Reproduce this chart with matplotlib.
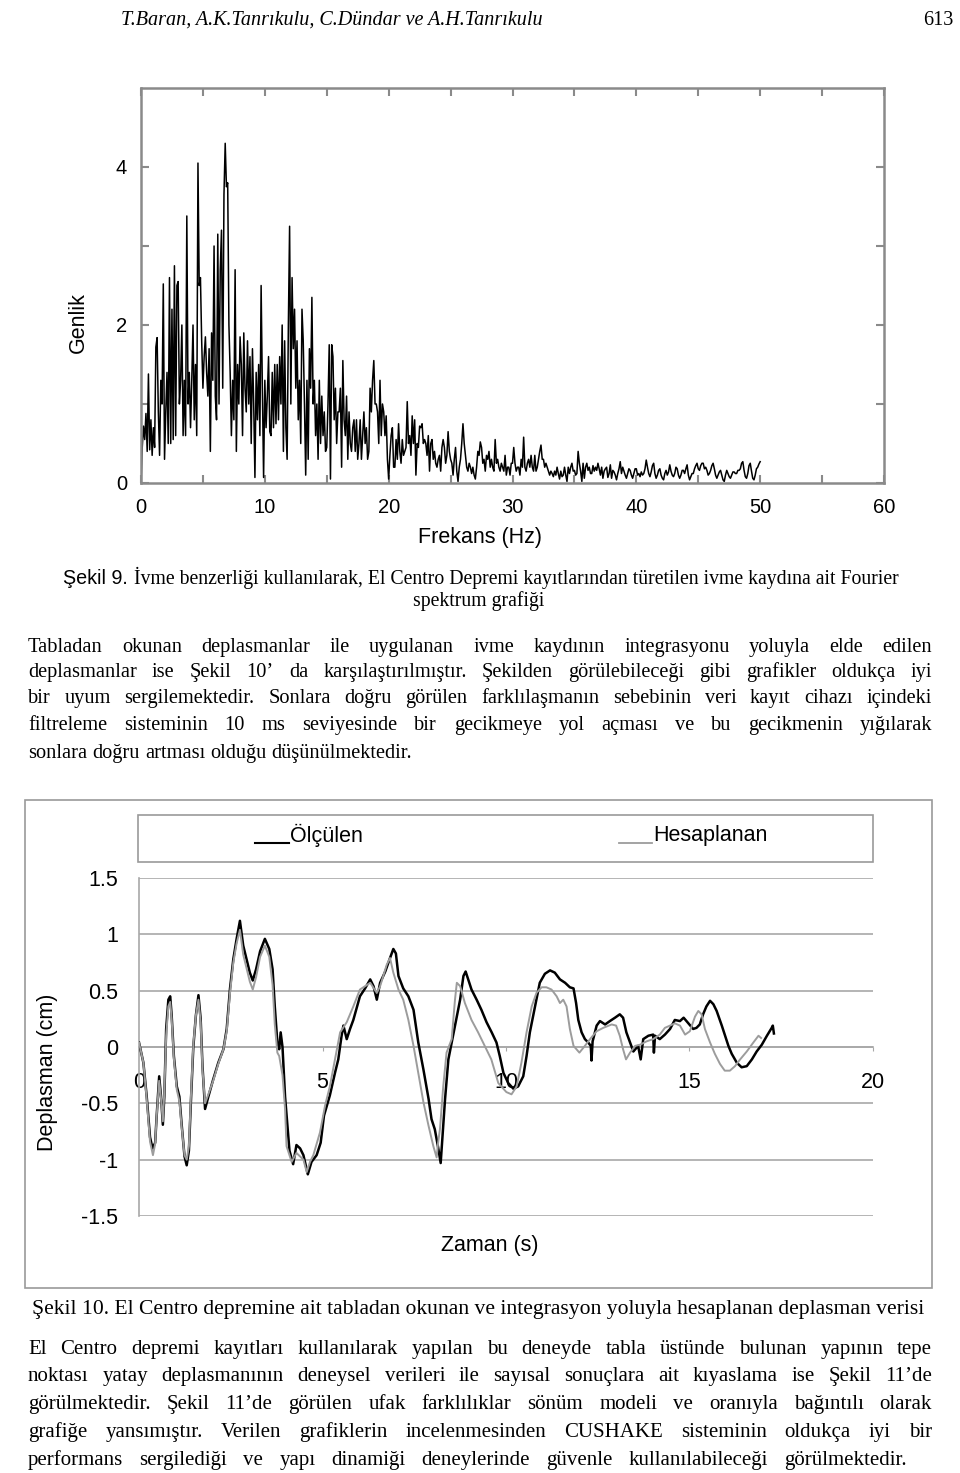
import numpy as np
import matplotlib
matplotlib.use('Agg')
import matplotlib.pyplot as plt
from matplotlib.patches import Rectangle
from matplotlib.lines import Line2D

# ---- Şekil 9: Fourier spectrum (genlik every 0.1 Hz, 0..50 Hz) ----
freq_step = 0.1
genlik = [
    0.00, 0.45, 0.72, 0.55, 0.88, 0.40, 1.38, 0.42, 0.80, 0.35,
    0.70, 0.45, 1.72, 1.84, 0.90, 0.35, 1.30, 1.00, 2.52, 0.30,
    0.90, 1.40, 0.50, 2.60, 0.50, 2.20, 0.55, 2.75, 0.60, 2.50,
    2.55, 1.00, 1.30, 2.00, 0.60, 1.30, 0.60, 3.38, 1.00, 1.40,
    0.70, 1.30, 2.00, 0.80, 1.50, 0.60, 4.05, 2.50, 2.60, 1.80,
    1.20, 1.60, 1.85, 1.40, 1.10, 1.70, 0.40, 1.90, 1.30, 3.00,
    1.10, 0.80, 3.15, 1.00, 2.70, 3.20, 1.20, 3.65, 4.30, 3.75,
    3.80, 2.00, 1.40, 0.60, 1.30, 0.80, 2.70, 0.40, 1.50, 1.00,
    1.85, 1.50, 0.60, 1.90, 1.20, 0.90, 1.80, 1.00, 1.60, 0.50,
    1.70, 1.00, 0.07, 1.40, 0.80, 1.50, 0.60, 2.50, 1.20, 0.07,
    1.30, 0.70, 1.10, 1.60, 0.65, 0.60, 1.40, 0.70, 1.50, 0.75,
    1.50, 0.80, 1.60, 1.00, 2.00, 0.40, 1.80, 0.70, 0.30, 2.00,
    3.25, 1.00, 2.60, 1.70, 2.20, 1.20, 1.80, 0.80, 1.30, 0.50,
    2.20, 1.80, 1.00, 0.10, 1.30, 0.30, 1.70, 1.20, 2.35, 1.00,
    1.30, 0.60, 1.00, 0.30, 1.30, 0.50, 1.10, 0.60, 0.90, 0.40,
    0.45, 1.00, 1.75, 0.05, 1.75, 1.60, 0.80, 1.20, 0.50, 0.90,
    0.90, 1.20, 0.20, 1.55, 0.80, 0.60, 1.10, 0.30, 0.90, 0.50,
    0.40, 0.70, 0.80, 0.40, 0.80, 0.30, 0.50, 0.80, 0.30, 0.60,
    0.90, 0.50, 0.70, 0.30, 0.40, 1.20, 0.90, 1.30, 1.55, 1.00,
    1.00, 0.90, 0.50, 1.30, 0.60, 1.00, 0.90, 0.60, 0.85, 0.30,
    0.05, 0.35, 0.60, 0.70, 0.20, 0.20, 0.55, 0.30, 0.75, 0.40,
    0.25, 0.55, 0.35, 0.40, 0.45, 1.03, 0.50, 0.60, 0.35, 0.85,
    0.50, 0.80, 0.10, 0.50, 0.45, 0.72, 0.70, 0.75, 0.50, 0.55,
    0.50, 0.35, 0.60, 0.15, 0.50, 0.55, 0.30, 0.40, 0.25, 0.20,
    0.30, 0.35, 0.15, 0.45, 0.55, 0.45, 0.25, 0.35, 0.65, 0.40,
    0.30, 0.25, 0.10, 0.30, 0.45, 0.15, 0.02, 0.20, 0.30, 0.50,
    0.75, 0.50, 0.35, 0.20, 0.15, 0.25, 0.20, 0.12, 0.20, 0.10,
    0.05, 0.20, 0.40, 0.35, 0.52, 0.45, 0.25, 0.30, 0.15, 0.35,
    0.30, 0.40, 0.20, 0.30, 0.20, 0.15, 0.55, 0.25, 0.30, 0.20,
    0.15, 0.25, 0.20, 0.15, 0.35, 0.10, 0.20, 0.20, 0.10, 0.25,
    0.25, 0.45, 0.25, 0.15, 0.20, 0.20, 0.10, 0.30, 0.20, 0.58,
    0.20, 0.15, 0.25, 0.30, 0.20, 0.35, 0.20, 0.15, 0.35, 0.15,
    0.20, 0.30, 0.40, 0.48, 0.30, 0.30, 0.20, 0.25, 0.20, 0.15,
    0.10, 0.15, 0.12, 0.08, 0.15, 0.10, 0.20, 0.12, 0.05, 0.15,
    0.08, 0.10, 0.20, 0.10, 0.02, 0.20, 0.12, 0.20, 0.25, 0.15,
    0.16, 0.10, 0.12, 0.40, 0.25, 0.15, 0.02, 0.25, 0.06, 0.20,
    0.25, 0.16, 0.20, 0.12, 0.12, 0.22, 0.15, 0.20, 0.16, 0.25,
    0.18, 0.10, 0.20, 0.06, 0.15, 0.18, 0.20, 0.07, 0.12, 0.23,
    0.06, 0.16, 0.14, 0.10, 0.04, 0.12, 0.18, 0.27, 0.12, 0.20,
    0.15, 0.10, 0.06, 0.12, 0.18, 0.16, 0.10, 0.06, 0.12, 0.18,
    0.18, 0.10, 0.12, 0.08, 0.14, 0.10, 0.12, 0.18, 0.29, 0.20,
    0.12, 0.08, 0.14, 0.22, 0.25, 0.12, 0.06, 0.10, 0.16, 0.18,
    0.10, 0.06, 0.04, 0.12, 0.16, 0.10, 0.14, 0.23, 0.15, 0.10,
    0.08, 0.12, 0.20, 0.18, 0.10, 0.06, 0.10, 0.16, 0.16, 0.12,
    0.18, 0.23, 0.10, 0.04, 0.08, 0.12, 0.12, 0.18, 0.22, 0.25,
    0.18, 0.16, 0.22, 0.25, 0.25, 0.18, 0.20, 0.16, 0.10, 0.12,
    0.16, 0.22, 0.25, 0.18, 0.10, 0.06, 0.10, 0.14, 0.16, 0.10,
    0.04, 0.02, 0.10, 0.16, 0.12, 0.08, 0.06, 0.10, 0.14, 0.14,
    0.12, 0.12, 0.16, 0.16, 0.18, 0.25, 0.27, 0.16, 0.08, 0.06,
    0.12, 0.22, 0.25, 0.15, 0.06, 0.04, 0.10, 0.18, 0.20, 0.24,
    0.27,
]

# ---- Şekil 10: displacement time histories ----
olculen = [
    (0.00, 0.04), (0.12, -0.14), (0.21, -0.44), (0.30, -0.80), (0.37, -0.90),
    (0.44, -0.85), (0.48, -0.62), (0.55, -0.26), (0.60, -0.44), (0.65, -0.69),
    (0.69, -0.44), (0.74, 0.16), (0.80, 0.42), (0.85, 0.45), (0.89, 0.28),
    (0.95, -0.08), (1.03, -0.35), (1.10, -0.44), (1.16, -0.68), (1.24, -0.97),
    (1.30, -1.05), (1.36, -0.92), (1.42, -0.44), (1.48, 0.00), (1.55, 0.28),
    (1.62, 0.46), (1.68, 0.25), (1.73, -0.17), (1.80, -0.55), (1.89, -0.44),
    (2.02, -0.29), (2.16, -0.14), (2.30, -0.02), (2.39, 0.16), (2.48, 0.52),
    (2.57, 0.78), (2.66, 0.96), (2.75, 1.12), (2.84, 0.90), (2.93, 0.78),
    (3.02, 0.66), (3.10, 0.59), (3.19, 0.69), (3.30, 0.85), (3.43, 0.96),
    (3.55, 0.87), (3.64, 0.69), (3.70, 0.36), (3.77, 0.04), (3.82, -0.02),
    (3.86, 0.13), (3.91, 0.00), (3.98, -0.44), (4.10, -0.92), (4.20, -1.04),
    (4.29, -0.87), (4.39, -0.90), (4.48, -0.96), (4.60, -1.13), (4.70, -1.02),
    (4.84, -0.96), (4.95, -0.85), (5.04, -0.61), (5.20, -0.43), (5.34, -0.23),
    (5.43, -0.11), (5.52, 0.10), (5.57, 0.19), (5.66, 0.07), (5.75, 0.16),
    (5.84, 0.24), (6.02, 0.45), (6.16, 0.52), (6.30, 0.60), (6.39, 0.54),
    (6.48, 0.42), (6.57, 0.57), (6.71, 0.67), (6.84, 0.79), (6.93, 0.87),
    (7.00, 0.83), (7.07, 0.63), (7.20, 0.52), (7.34, 0.45), (7.48, 0.33),
    (7.61, 0.04), (7.75, -0.20), (7.89, -0.46), (7.97, -0.64), (8.06, -0.73),
    (8.15, -0.89), (8.22, -1.03), (8.34, -0.46), (8.43, -0.11), (8.52, 0.04),
    (8.61, 0.19), (8.75, 0.42), (8.84, 0.63), (8.90, 0.67), (8.97, 0.60),
    (9.06, 0.51), (9.20, 0.42), (9.33, 0.33), (9.47, 0.22), (9.61, 0.13),
    (9.74, 0.04), (9.83, -0.08), (9.93, -0.23), (10.06, -0.32), (10.20, -0.37),
    (10.33, -0.35), (10.47, -0.26), (10.56, -0.08), (10.65, 0.13), (10.79, 0.36),
    (10.92, 0.57), (11.06, 0.65), (11.20, 0.68), (11.33, 0.66), (11.47, 0.60),
    (11.61, 0.57), (11.74, 0.53), (11.84, 0.52), (11.91, 0.39), (11.97, 0.24),
    (12.06, 0.13), (12.15, 0.07), (12.24, 0.04), (12.31, 0.01), (12.33, -0.12),
    (12.36, 0.05), (12.47, 0.19), (12.56, 0.23), (12.70, 0.20), (12.83, 0.23),
    (12.97, 0.26), (13.10, 0.29), (13.19, 0.26), (13.28, 0.13), (13.38, 0.04),
    (13.47, -0.04), (13.60, 0.01), (13.67, -0.11), (13.74, 0.07), (13.88, 0.10),
    (14.01, 0.11), (14.03, -0.05), (14.06, 0.10), (14.19, 0.07), (14.33, 0.11),
    (14.47, 0.16), (14.60, 0.24), (14.74, 0.23), (14.84, 0.26), (14.97, 0.21),
    (15.10, 0.16), (15.19, 0.17), (15.28, 0.20), (15.37, 0.29), (15.46, 0.36),
    (15.56, 0.41), (15.65, 0.38), (15.74, 0.32), (15.88, 0.19), (15.97, 0.10),
    (16.06, 0.01), (16.15, -0.06), (16.29, -0.14), (16.42, -0.18), (16.56, -0.17),
    (16.70, -0.11), (16.83, -0.04), (16.97, 0.02), (17.11, 0.10), (17.24, 0.17),
    (17.27, 0.19), (17.30, 0.12),
]
hesaplanan = [
    (0.00, 0.04), (0.12, -0.14), (0.21, -0.46), (0.30, -0.84), (0.38, -0.96),
    (0.44, -0.86), (0.48, -0.62), (0.55, -0.30), (0.60, -0.46), (0.65, -0.66),
    (0.69, -0.40), (0.74, 0.10), (0.80, 0.36), (0.85, 0.40), (0.89, 0.25),
    (0.95, -0.10), (1.03, -0.38), (1.10, -0.48), (1.16, -0.70), (1.24, -0.96),
    (1.30, -1.00), (1.36, -0.88), (1.42, -0.40), (1.48, 0.02), (1.55, 0.28),
    (1.62, 0.42), (1.68, 0.22), (1.73, -0.20), (1.80, -0.50), (1.89, -0.42),
    (2.02, -0.30), (2.16, -0.15), (2.30, -0.02), (2.39, 0.14), (2.48, 0.48),
    (2.57, 0.75), (2.66, 0.92), (2.75, 1.04), (2.84, 0.82), (2.93, 0.70),
    (3.02, 0.58), (3.10, 0.51), (3.19, 0.62), (3.30, 0.80), (3.43, 0.90),
    (3.55, 0.80), (3.64, 0.55), (3.70, 0.20), (3.77, -0.05), (3.82, -0.08),
    (3.91, -0.25), (3.98, -0.55), (4.02, -0.88), (4.16, -1.02), (4.29, -0.94),
    (4.48, -1.00), (4.57, -1.11), (4.66, -1.02), (4.75, -0.96), (4.93, -0.76),
    (5.07, -0.52), (5.20, -0.35), (5.34, -0.11), (5.48, 0.13), (5.66, 0.22),
    (5.84, 0.36), (6.02, 0.51), (6.30, 0.57), (6.48, 0.48), (6.57, 0.54),
    (6.75, 0.73), (6.84, 0.79), (6.93, 0.66), (7.07, 0.51), (7.20, 0.42),
    (7.34, 0.24), (7.48, 0.01), (7.61, -0.23), (7.75, -0.49), (7.89, -0.70),
    (8.02, -0.88), (8.11, -0.98), (8.15, -0.85), (8.20, -0.73), (8.29, -0.35),
    (8.38, -0.05), (8.52, 0.07), (8.61, 0.42), (8.66, 0.57), (8.75, 0.54),
    (8.88, 0.39), (9.06, 0.24), (9.24, 0.13), (9.42, 0.01), (9.60, -0.11),
    (9.79, -0.32), (10.01, -0.40), (10.15, -0.42), (10.29, -0.35), (10.42, -0.14),
    (10.56, 0.13), (10.70, 0.36), (10.83, 0.48), (10.97, 0.53), (11.10, 0.53),
    (11.24, 0.51), (11.38, 0.45), (11.47, 0.39), (11.56, 0.42), (11.65, 0.36),
    (11.74, 0.16), (11.84, 0.01), (12.00, -0.05), (12.15, 0.01), (12.29, 0.07),
    (12.47, 0.14), (12.65, 0.17), (12.88, 0.20), (13.00, 0.19), (13.10, 0.10),
    (13.19, -0.02), (13.27, -0.11), (13.38, -0.05), (13.52, 0.01), (13.65, 0.02),
    (13.83, 0.05), (14.01, 0.07), (14.19, 0.11), (14.33, 0.17), (14.47, 0.19),
    (14.60, 0.21), (14.74, 0.19), (14.88, 0.11), (15.01, 0.14), (15.15, 0.27),
    (15.24, 0.32), (15.33, 0.29), (15.42, 0.16), (15.56, 0.04), (15.69, -0.06),
    (15.83, -0.15), (15.96, -0.21), (16.10, -0.21), (16.24, -0.17), (16.38, -0.11),
    (16.56, -0.04), (16.74, 0.04), (16.88, 0.10), (16.95, 0.08),
]
zaman_ticks = [0, 5, 10, 15, 20]
deplasman_ticks = [-1.5, -1.0, -0.5, 0.0, 0.5, 1.0, 1.5]
deplasman_labels = ['-1.5', '-1', '-0.5', '0', '0.5', '1', '1.5']

header_left = "T.Baran, A.K.Tanrıkulu, C.Dündar ve A.H.Tanrıkulu"
header_page = "613"
cap9_a = "Şekil 9."
cap9_b = "İvme benzerliği kullanılarak, El Centro Depremi kayıtlarından türetilen ivme kaydına ait Fourier"
cap9_c = "spektrum grafiği"
para1 = [
    "Tabladan okunan deplasmanlar ile uygulanan ivme kaydının integrasyonu yoluyla elde edilen",
    "deplasmanlar ise Şekil 10’ da karşılaştırılmıştır. Şekilden görülebileceği gibi grafikler oldukça iyi",
    "bir uyum sergilemektedir. Sonlara doğru görülen farklılaşmanın sebebinin veri kayıt cihazı içindeki",
    "filtreleme sisteminin 10 ms seviyesinde bir gecikmeye yol açması ve bu gecikmenin yığılarak",
    "sonlara doğru artması olduğu düşünülmektedir.",
]
cap10 = "Şekil 10. El Centro depremine ait tabladan okunan ve integrasyon yoluyla hesaplanan deplasman verisi"
para2 = [
    "El Centro depremi kayıtları kullanılarak yapılan bu deneyde tabla üstünde bulunan yapının tepe",
    "noktası yatay deplasmanının deneysel verileri ile sayısal sonuçlara ait kıyaslama ise Şekil 11’de",
    "görülmektedir. Şekil 11’de görülen ufak farklılıklar sönüm modeli ve oranıyla bağıntılı olarak",
    "grafiğe yansımıştır. Verilen grafiklerin incelenmesinden CUSHAKE sisteminin oldukça iyi bir",
    "performans sergilediği ve yapı dinamiği deneylerinde güvenle kullanılabileceği görülmektedir.",
]

W, H = 960, 1473
SANS = ['Liberation Sans', 'DejaVu Sans']
SERIF = ['Liberation Serif', 'DejaVu Serif']
GRAY = '#8a8a8a'

fig = plt.figure(figsize=(W / 100, H / 100), dpi=100)
renderer = fig.canvas.get_renderer()


def fx(px):
    return px / W


def fy(py):
    return 1 - py / H


# ---------------- top chart ----------------
ax1 = fig.add_axes([fx(141), fy(483), (884 - 141) / W, (483 - 88) / H])
freq = np.arange(len(genlik)) * freq_step
ax1.plot(freq, genlik, color='black', lw=1.1)
ax1.set_xlim(0, 60)
ax1.set_ylim(0, 5)
ax1.set_xticks(range(0, 61, 10))
ax1.set_xticks(range(5, 60, 10), minor=True)
ax1.set_yticks([0, 2, 4])
ax1.set_yticks([1, 3], minor=True)
ax1.tick_params(which='both', direction='in', top=True, right=True,
                length=6, width=1.5, color=GRAY, labelsize=14.5)
ax1.tick_params(axis='x', pad=11)
ax1.tick_params(axis='y', pad=10)
for lab in ax1.get_xticklabels() + ax1.get_yticklabels():
    lab.set_family(SANS)
for sp in ax1.spines.values():
    sp.set_color(GRAY)
    sp.set_linewidth(1.8)
fig.text(fx(78), fy(323), 'Genlik', rotation=90, ha='center', va='center',
         fontsize=15.5, family=SANS)
fig.text(fx(480), fy(537), 'Frekans (Hz)', ha='center', va='center',
         fontsize=15.5, family=SANS)

# ---------------- bottom chart ----------------
fig.add_artist(Rectangle((fx(25), fy(1288)), (932 - 25) / W, (1288 - 800) / H,
                         transform=fig.transFigure, fill=False, ec='#9a9a9a', lw=1.2))
fig.add_artist(Rectangle((fx(138), fy(862)), (873 - 138) / W, (862 - 815) / H,
                         transform=fig.transFigure, fill=False, ec='#9a9a9a', lw=1.2))

ax2 = fig.add_axes([fx(139), fy(1216), (873 - 139) / W, (1216 - 878) / H])
mt, mv = zip(*olculen)
ht, hv = zip(*hesaplanan)
ax2.plot(mt, mv, color='black', lw=1.8, zorder=3)
ax2.plot(ht, hv, color='#9c9c9c', lw=1.4, zorder=4)
ax2.set_xlim(0, 20)
ax2.set_ylim(-1.5, 1.5)
ax2.set_xticks(zaman_ticks)
ax2.set_yticks(deplasman_ticks)
ax2.set_yticklabels(deplasman_labels)
ax2.yaxis.grid(True, color='#a8a8a8', lw=1.2)
ax2.set_axisbelow(True)
ax2.spines['top'].set_visible(False)
ax2.spines['right'].set_visible(False)
ax2.spines['left'].set_color('#a8a8a8')
ax2.spines['left'].set_linewidth(1.2)
ax2.spines['bottom'].set_position(('data', 0))
ax2.spines['bottom'].set_color('#a8a8a8')
ax2.spines['bottom'].set_linewidth(1.2)
ax2.tick_params(axis='y', length=0, pad=15, labelsize=15.5)
ax2.tick_params(axis='x', length=3, color='#a8a8a8', pad=15, labelsize=15.5)
for lab in ax2.get_xticklabels() + ax2.get_yticklabels():
    lab.set_family(SANS)

fig.add_artist(Line2D([fx(255), fx(289)], [fy(843), fy(843)], color='black', lw=1.5))
fig.text(fx(290), fy(835), 'Ölçülen', ha='left', va='center', fontsize=15.5, family=SANS)
fig.add_artist(Line2D([fx(619), fx(652)], [fy(843), fy(843)], color='#9c9c9c', lw=1.3))
fig.text(fx(653), fy(835), 'Hesaplanan', ha='left', va='center', fontsize=15.5, family=SANS)
fig.text(fx(48), fy(1072), 'Deplasman (cm)', rotation=90, ha='center', va='center',
         fontsize=15.5, family=SANS)
fig.text(fx(490), fy(1246), 'Zaman (s)', ha='center', va='center', fontsize=15.5, family=SANS)


# ---------------- page text ----------------
def justify(line, base, x0, x1, size, natural=False):
    words = line.split(' ')
    texts = [fig.text(0, fy(base), w, fontsize=size, family=SERIF, va='baseline')
             for w in words]
    widths = [t.get_window_extent(renderer).width for t in texts]
    probe1 = fig.text(0, 0, 'a a', fontsize=size, family=SERIF)
    probe2 = fig.text(0, 0, 'aa', fontsize=size, family=SERIF)
    space = probe1.get_window_extent(renderer).width - probe2.get_window_extent(renderer).width
    probe1.remove()
    probe2.remove()
    if natural or len(words) == 1:
        gap = space
    else:
        gap = (x1 - x0 - sum(widths)) / (len(words) - 1)
    x = x0
    for t, w in zip(texts, widths):
        t.set_x(fx(x))
        x += w + gap


fig.text(fx(121), fy(25), header_left, fontsize=14.5, family=SERIF, style='italic', va='baseline')
fig.text(fx(953), fy(25), header_page, fontsize=14.5, family=SERIF, ha='right', va='baseline')

ta = fig.text(0, fy(584), cap9_a, fontsize=14.2, family=SANS, va='baseline')
tb = fig.text(0, fy(584), cap9_b, fontsize=14.2, family=SERIF, va='baseline')
wa = ta.get_window_extent(renderer).width
wb = tb.get_window_extent(renderer).width
x_start = 481 - (wa + 6 + wb) / 2
ta.set_x(fx(x_start))
tb.set_x(fx(x_start + wa + 6))
fig.text(fx(479), fy(606), cap9_c, fontsize=14.2, family=SERIF, ha='center', va='baseline')

for i, (line, base) in enumerate(zip(para1, [652, 677, 703, 730, 758])):
    justify(line, base, 28, 932, 14.7, natural=(i == len(para1) - 1))

fig.text(fx(478), fy(1314), cap10, fontsize=15.6, family=SERIF, ha='center', va='baseline')

para2_right = [932, 932, 932, 932, 907]
for line, base, xr in zip(para2, [1354, 1381, 1409, 1437, 1465], para2_right):
    justify(line, base, 28, xr, 15.0)

fig.savefig('out.png', dpi=100)
